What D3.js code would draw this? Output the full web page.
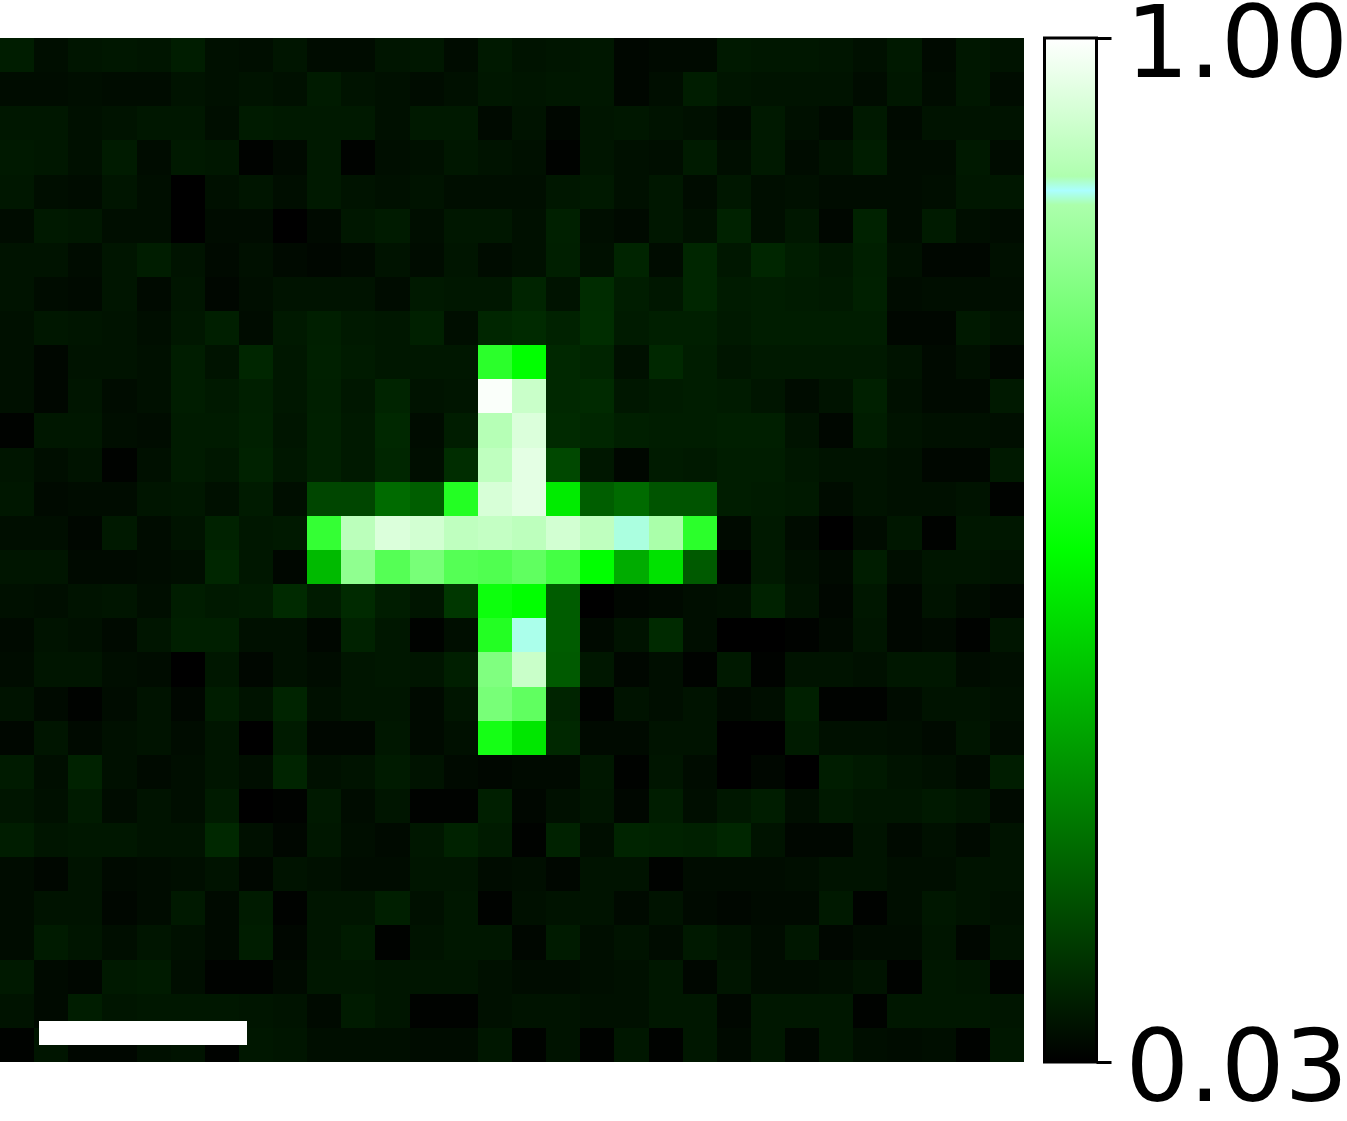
<!DOCTYPE html>
<html>
<head>
<meta charset="utf-8">
<script src="https://d3js.org/d3.v7.min.js"></script>
<style>
  body { margin: 0; background: #fff; }
  svg { display: block; }
</style>
</head>
<body>
<div id="chart"></div>
<script>
// raw signal per pixel, 0 = bottom of the colour bar, 510 = top
var signal = [
  [24,10,16,18,16,24,12,10,16,8,8,16,18,8,20,14,16,18,4,6,6,20,18,18,16,12,20,6,18,14],
  [8,8,10,8,8,14,12,14,12,22,14,12,8,12,18,16,18,18,4,10,24,16,14,14,14,8,18,8,18,8],
  [18,18,12,14,18,18,10,22,20,20,20,12,20,20,6,14,4,16,18,14,12,6,20,12,6,20,6,14,14,14],
  [20,18,12,22,8,20,18,2,6,20,2,10,12,18,14,12,2,16,12,10,22,10,20,8,14,24,8,8,20,8],
  [18,10,8,16,10,0,12,16,10,20,14,12,14,10,10,10,18,20,12,18,8,18,10,12,8,8,8,10,18,18],
  [8,20,18,10,10,0,8,8,0,6,18,22,10,18,18,12,28,10,6,18,12,30,10,18,4,30,8,22,10,8],
  [14,14,8,16,24,14,6,12,6,4,6,14,8,16,8,12,26,12,32,8,34,18,34,24,18,26,12,4,4,12],
  [14,8,6,16,6,16,4,10,14,14,14,8,20,18,18,32,14,40,24,18,34,22,24,22,20,28,8,10,10,10],
  [12,18,16,14,10,18,26,8,20,26,20,18,28,10,34,38,30,42,22,26,26,20,24,24,24,24,4,4,20,14],
  [12,4,14,14,12,24,14,34,18,28,22,18,18,18,297,255,36,32,12,36,24,16,20,20,20,20,14,6,12,4],
  [12,4,16,8,12,24,20,26,18,26,18,32,14,16,506,463,36,38,18,22,24,22,16,8,14,28,12,6,6,20],
  [2,18,18,10,8,22,22,28,16,28,20,36,8,24,447,479,38,34,26,24,24,26,26,14,4,24,14,12,12,10],
  [16,10,14,2,12,22,18,30,18,28,20,34,10,42,455,487,70,18,4,22,20,24,24,18,14,14,12,4,4,20],
  [18,6,8,8,16,18,12,22,10,68,68,105,92,289,475,487,235,92,105,82,82,24,22,20,8,14,12,12,14,2],
  [10,10,4,20,8,14,30,18,20,306,451,479,471,455,459,453,471,455,431,425,297,6,20,8,0,8,18,2,18,18],
  [16,16,6,6,8,10,34,18,4,185,399,340,375,340,335,351,323,255,170,225,88,2,20,12,6,24,10,16,16,14],
  [12,10,14,16,10,24,20,22,38,22,38,24,16,52,267,255,90,0,4,6,10,12,30,14,4,18,4,14,8,4],
  [6,14,12,6,16,26,26,12,12,4,30,18,2,10,289,432,90,6,14,38,10,0,0,2,6,16,4,6,2,16],
  [8,16,16,10,8,0,18,4,12,8,16,18,16,26,383,463,88,18,4,10,2,20,2,14,14,12,18,18,8,10],
  [14,6,2,8,14,4,24,14,32,12,16,16,6,16,375,351,32,2,14,10,14,6,10,28,2,2,8,14,14,12],
  [4,16,6,12,14,8,16,0,22,4,4,18,6,12,275,230,36,6,6,14,14,0,0,22,12,12,10,6,16,8],
  [22,10,30,12,6,10,16,10,32,12,14,22,14,6,4,6,6,18,2,16,8,0,4,0,24,20,14,12,6,24],
  [16,12,22,8,14,10,22,0,2,20,8,16,2,2,26,4,12,16,4,24,10,18,24,10,20,16,16,20,16,6],
  [24,16,18,18,14,14,36,12,4,18,10,6,18,30,22,2,30,10,32,30,28,34,14,4,4,14,6,12,6,14],
  [8,4,14,6,8,10,14,4,14,12,8,8,16,16,8,10,4,14,14,2,8,8,8,10,14,14,10,10,14,14],
  [8,14,14,4,8,20,6,22,2,16,16,26,12,18,2,12,14,14,6,14,6,4,6,6,20,2,10,18,14,12],
  [8,22,16,10,16,12,6,24,4,16,22,2,14,18,18,4,22,10,14,8,20,14,8,18,4,8,8,16,4,14],
  [20,6,4,20,22,10,2,2,6,18,18,16,16,16,12,8,8,10,12,18,4,16,8,8,10,14,2,18,16,2],
  [14,6,24,16,18,18,18,16,14,6,22,16,2,2,12,14,14,12,12,18,18,4,18,18,18,2,18,18,18,16],
  [2,16,4,4,12,14,2,18,16,10,10,10,8,8,18,2,14,2,18,2,18,6,18,4,18,10,8,10,2,18]
];

// my dark readings came out a bit low, so lift them before mapping to values
var signalLevels = [0, 6, 20, 60, 510];
var calibrated = [0, 10, 25, 62, 510];
var valueRange = [0.03, 1.00];

// colormap, black -> green -> white with the small cyan band near the top
var cmapPos = [0, 0.5, 0.837, 0.851, 0.865, 1];
var cmapColors = ["#000000", "#00ff00", "#abffab", "#abffff", "#afffaf", "#ffffff"];

var width = 1347, height = 1121;
var size = 1024, top_y = 38;

var svg = d3.select("#chart")
    .append("svg")
    .attr("width", width)
    .attr("height", height);

var toValue = d3.scaleLinear()
    .domain(signalLevels)
    .range(calibrated.map(function(c) { return valueRange[0] + c / 510 * (valueRange[1] - valueRange[0]); }));

var color = d3.scaleLinear()
    .domain(cmapPos.map(function(p) { return valueRange[0] + p * (valueRange[1] - valueRange[0]); }))
    .range(cmapColors);

var x = d3.scaleBand().domain(d3.range(signal[0].length)).range([0, size]);
var y = d3.scaleBand().domain(d3.range(signal.length)).range([top_y, top_y + size]);

// heatmap
svg.append("g")
    .attr("shape-rendering", "crispEdges")
    .selectAll("g")
    .data(signal)
    .join("g")
    .each(function(row, r) {
        d3.select(this).selectAll("rect")
            .data(row)
            .join("rect")
            .attr("x", function(d, c) { return x(c); })
            .attr("y", y(r))
            .attr("width", x.bandwidth())
            .attr("height", y.bandwidth())
            .attr("fill", function(d) { return color(toValue(d)); });
    });

// scale bar
svg.append("rect")
    .attr("x", 39)
    .attr("y", 1021)
    .attr("width", 208)
    .attr("height", 24)
    .attr("fill", "#fff");

// colour bar
var grad = svg.append("defs").append("linearGradient")
    .attr("id", "cbar")
    .attr("x1", 0).attr("y1", 1)
    .attr("x2", 0).attr("y2", 0);

grad.selectAll("stop")
    .data(cmapPos)
    .join("stop")
    .attr("offset", function(d) { return d; })
    .attr("stop-color", function(d, i) { return cmapColors[i]; });

var barLeft = 1044.5, barWidth = 52;

var cbarScale = d3.scaleLinear().domain(valueRange).range([top_y + size, top_y]);

svg.append("rect")
    .attr("x", barLeft)
    .attr("y", top_y)
    .attr("width", barWidth)
    .attr("height", size)
    .attr("fill", "url(#cbar)")
    .attr("stroke", "#000")
    .attr("stroke-width", 3);

var cbarAxis = svg.append("g")
    .attr("transform", "translate(" + (barLeft + barWidth) + ",0)")
    .call(d3.axisRight(cbarScale)
        .tickValues(valueRange)
        .tickFormat(d3.format(".2f"))
        .tickSize(15)
        .tickPadding(14));

cbarAxis.select(".domain").remove();
cbarAxis.selectAll("line")
    .attr("stroke", "#000")
    .attr("stroke-width", 3);
cbarAxis.selectAll("text")
    .attr("dy", "0.385em")
    .attr("fill", "#000")
    .style("font-family", "'DejaVu Sans'")
    .style("font-size", "100px");
</script>
</body>
</html>
